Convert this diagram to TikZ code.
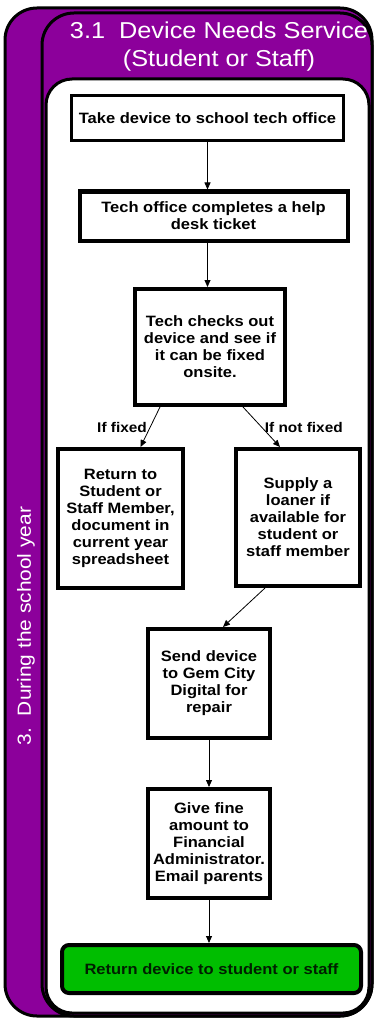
\documentclass[tikz,border=0pt]{standalone}
\usepackage{fontspec}
\setmainfont[FakeStretch=1.1]{Liberation Sans}
\usetikzlibrary{arrows.meta}

\definecolor{lanepurple}{RGB}{140,0,155}
\definecolor{donegreen}{RGB}{0,190,0}

\begin{document}
\begin{tikzpicture}[
			x=1pt, y=-1pt,
			frame/.style={draw=black, line width=3pt, fill=lanepurple, rounded corners=32pt},
			panel/.style={draw=black, line width=3pt, fill=white, rounded corners=26pt},
			task/.style={rectangle, draw, line width=4pt, fill=white, align=center, inner sep=2pt, font=\bfseries\fontsize{15}{17}\selectfont},
			finish/.style={task, fill=donegreen, rounded corners=7pt, text=green!12!black},
			flow/.style={-{Triangle[length=7pt,width=6pt]}, line width=0.8pt},
			branch/.style={inner sep=3pt, font=\bfseries\fontsize{14}{17}\selectfont}
		]
		\useasboundingbox (0,0) rectangle (374,1019);

		% swimlane frames
		\draw[frame] (5,8) rectangle (372,1016);
		\draw[frame] (42,13) rectangle (372,1016);
		\draw[panel] (46,79) rectangle (369,1013);
		\node[text=white, align=center, font=\fontsize{23}{28}\selectfont] (title) at (219,47) {3.1\ \ Device Needs Service\\(Student or Staff)};
		\node[text=white, rotate=90, font=\fontsize{19}{22}\selectfont] (lane) at (26,626) {3.\ \ During the school year};

		% steps
		\node[task, minimum width=272pt, minimum height=45pt, line width=3pt] (take) at (207.5,118.5) {Take device to school tech office};
		\node[task, minimum width=268pt, minimum height=49pt] (ticket) at (213.5,216) {Tech office completes a help\\desk ticket};
		\node[task, minimum width=150pt, minimum height=116pt] (check) at (210,347) {Tech checks out\\device and see if\\it can be fixed\\onsite.};
		\node[task, minimum width=125pt, minimum height=139pt] (fixed) at (120.5,518.5) {Return to\\Student or\\Staff Member,\\document in\\current year\\spreadsheet};
		\node[task, minimum width=124pt, minimum height=137pt] (loaner) at (298,517.5) {Supply a\\loaner if\\available for\\student or\\staff member};
		\node[task, minimum width=122pt, minimum height=109pt] (repair) at (209,683.5) {Send device\\to Gem City\\Digital for\\repair};
		\node[task, minimum width=122pt, minimum height=109pt] (fine) at (209,843.5) {Give fine\\amount to\\Financial\\Administrator.\\Email parents};
		\node[finish, minimum width=299pt, minimum height=48pt] (done) at (211.5,969) {Return device to student or staff};

		% connectors
		\draw[flow] (take.south) -- (take.south |- ticket.north);
		\draw[flow] (take.south |- ticket.south) -- (take.south |- check.north);
		\draw[flow] ([xshift=-50pt]check.south) -- node[branch, left] {If fixed} ([xshift=20pt]fixed.north);
		\draw[flow] ([xshift=33pt]check.south) -- node[branch, right] {If not fixed} ([xshift=-18pt]loaner.north);
		\draw[flow] ([xshift=-33pt]loaner.south) -- ([xshift=14pt]repair.north);
		\draw[flow] (repair.south) -- (fine.north);
		\draw[flow] (fine.south) -- (fine.south |- done.north);
\end{tikzpicture}
\end{document}
